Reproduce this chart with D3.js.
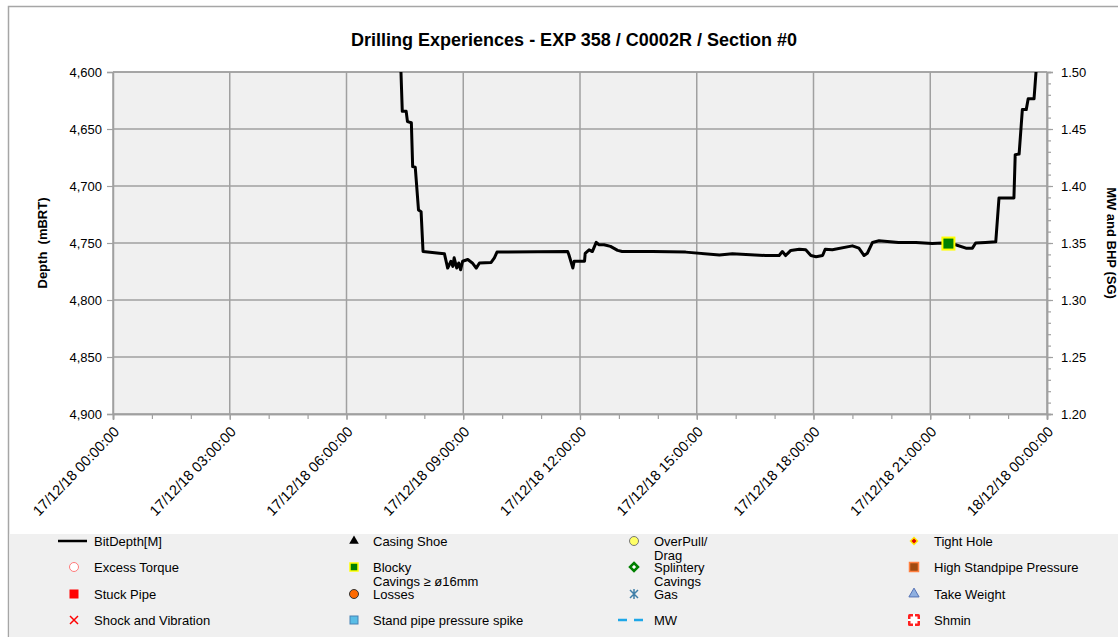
<!DOCTYPE html>
<html>
<head>
<meta charset="utf-8">
<script src="https://cdn.jsdelivr.net/npm/d3@7"></script>
<style>
  body { margin: 0; background: #fff; }
  svg { font-family: Arial, "Liberation Sans", sans-serif; }
</style>
</head>
<body>
<script>
// bit depth trace, 17/12/18 (times HH:MM, depth mBRT)
var times = ["07:21","07:24","07:26","07:32","07:34","07:40","07:42","07:46","07:51","07:55","07:58",
  "08:23","08:31","08:36","08:41","08:44","08:46","08:50","08:53","08:56","08:59",
  "09:07","09:14","09:20","09:25","09:43","09:48","09:52",
  "11:41","11:43","11:49","11:51","12:07","12:08","12:14","12:19","12:25","12:29","12:37","12:47","12:58",
  "13:05","13:52","14:43","15:35","15:55","16:46",
  "17:07","17:12","17:17","17:25","17:38","17:48","17:56","18:04","18:14","18:18","18:29",
  "19:00","19:10","19:18","19:23","19:31","19:41","20:11","20:38",
  "21:03","21:19","21:39","21:55","22:05","22:10","22:25","22:41","22:46",
  "23:09","23:11","23:17","23:22","23:28","23:31","23:40","23:43","23:46"];
var depths = [4580,4600.5,4634.5,4634.5,4643.5,4644.5,4683,4683.5,4721,4722.5,4757.5,
  4759,4759.5,4772,4766,4770.5,4763,4772,4767.5,4773.5,4766,
  4764.5,4767.5,4772,4767.5,4767,4763,4758,
  4757.5,4760.5,4772,4766,4766,4759,4756,4757.5,4749.5,4751.5,4751.5,4753,4756.5,
  4757.5,4757.5,4758,4760.5,4759.5,4761,
  4761,4757.5,4761,4756.5,4755.5,4756,4761,4762,4761,4755.5,4756,
  4752.5,4754.5,4761,4759,4749.5,4748,4749.5,4749.5,
  4750.5,4750,4751.5,4754.5,4754.5,4750,4749.5,4749,4710.5,
  4710.5,4672.5,4672,4633,4633,4623.5,4623.5,4600.5,4589];

// experience events
var blockyTimes = ["21:28"];
var blockyDepths = [4750.5];

var depthTicks = [4600,4650,4700,4750,4800,4850,4900];
var sgTicks = [1.20,1.25,1.30,1.35,1.40,1.45,1.50];

var legendLabels = [
  ["BitDepth[M]","Casing Shoe","OverPull/\nDrag","Tight Hole"],
  ["Excess Torque","Blocky\nCavings ≥ ø16mm","Splintery\nCavings","High Standpipe Pressure"],
  ["Stuck Pipe","Losses","Gas","Take Weight"],
  ["Shock and Vibration","Stand pipe pressure spike","MW","Shmin"]
];

var parse = d3.timeParse("%d/%m/%y %H:%M");
var pts = times.map(function(t, i) {
  return {t: parse("17/12/18 " + t), d: depths[i]};
});

var W = 1118, H = 637;
var svg = d3.select("body").append("svg").attr("width", W).attr("height", H);

var x = d3.scaleTime()
  .domain([parse("17/12/18 00:00"), parse("18/12/18 00:00")])
  .range([113, 1047]);
var y = d3.scaleLinear().domain([4600, 4900]).range([72, 414]);
var y2 = d3.scaleLinear().domain([1.20, 1.50]).range([414, 72]);

// outer frame
svg.append("path").attr("d", "M8.5,637V6.5H1118")
  .attr("fill", "none").attr("stroke", "#a6a6a6").attr("stroke-width", 1.5);

// plot background
svg.append("rect").attr("x", 113).attr("y", 72).attr("width", 934).attr("height", 342)
  .attr("fill", "#f0f0f0");

// grid
var grid = svg.append("g").attr("stroke", "#a0a0a0").attr("stroke-width", 1.5);
grid.selectAll("line.h").data(depthTicks).enter().append("line")
  .attr("x1", 113).attr("x2", 1047)
  .attr("y1", function(d) { return y(d); }).attr("y2", function(d) { return y(d); });
grid.selectAll("line.v").data(x.ticks(d3.timeHour.every(3))).enter().append("line")
  .attr("y1", 72).attr("y2", 414)
  .attr("x1", function(d) { return x(d); }).attr("x2", function(d) { return x(d); });

function styleAxis(g) {
  g.select(".domain").attr("stroke", "#a0a0a0").attr("stroke-width", 1.5);
  g.selectAll(".tick line").attr("stroke", "#a0a0a0").attr("stroke-width", 1.2);
  g.selectAll("text").attr("fill", "#000").style("font-size", "13px");
}

// left axis
var gl = svg.append("g").attr("transform", "translate(113,0)")
  .call(d3.axisLeft(y).tickValues(depthTicks).tickFormat(d3.format(",")).tickSize(6).tickPadding(5));
styleAxis(gl);

// right axis: minor then major
var gr2 = svg.append("g").attr("transform", "translate(1047,0)")
  .call(d3.axisRight(y2).tickValues(d3.range(120, 151).map(function(v) { return v / 100; }))
    .tickFormat("").tickSize(4));
styleAxis(gr2);
var gr = svg.append("g").attr("transform", "translate(1047,0)")
  .call(d3.axisRight(y2).tickValues(sgTicks).tickFormat(d3.format(".2f")).tickSize(6).tickPadding(8));
styleAxis(gr);

// bottom axis: hourly minor ticks, 3-hourly labels
var gb2 = svg.append("g").attr("transform", "translate(0,414)")
  .call(d3.axisBottom(x).ticks(d3.timeHour.every(1)).tickFormat("").tickSize(5));
styleAxis(gb2);
var gb = svg.append("g").attr("transform", "translate(0,414)")
  .call(d3.axisBottom(x).ticks(d3.timeHour.every(3)).tickFormat(d3.timeFormat("%d/%m/%y %H:%M:%S")).tickSize(6));
styleAxis(gb);
gb.selectAll("text")
  .style("font-size", "14.5px")
  .attr("text-anchor", "end")
  .attr("dy", "0.35em")
  .attr("transform", "translate(3,15) rotate(-46)")
  .attr("x", 0).attr("y", 0);

// top border of plot
svg.append("line").attr("x1", 113).attr("x2", 1047).attr("y1", 72).attr("y2", 72)
  .attr("stroke", "#a0a0a0").attr("stroke-width", 1.5);

// clip
svg.append("clipPath").attr("id", "plotclip").append("rect")
  .attr("x", 113).attr("y", 72).attr("width", 934).attr("height", 342);

// bit depth line
var line = d3.line().x(function(p) { return x(p.t); }).y(function(p) { return y(p.d); });
svg.append("path").datum(pts).attr("clip-path", "url(#plotclip)")
  .attr("d", line).attr("fill", "none").attr("stroke", "#000").attr("stroke-width", 3)
  .attr("stroke-linejoin", "round");

// blocky marker
svg.selectAll("rect.blocky").data(blockyTimes).enter().append("rect")
  .attr("x", function(t) { return x(parse("17/12/18 " + t)) - 6; })
  .attr("y", function(t, i) { return y(blockyDepths[i]) - 6; })
  .attr("width", 12).attr("height", 12)
  .attr("fill", "#008000").attr("stroke", "#ffff00").attr("stroke-width", 2);

// titles
svg.append("text").attr("x", 574).attr("y", 46).attr("text-anchor", "middle")
  .style("font-size", "18px").style("font-weight", "bold")
  .text("Drilling Experiences - EXP 358 / C0002R / Section #0");
svg.append("text").attr("transform", "translate(47,243) rotate(-90)").attr("text-anchor", "middle")
  .style("font-size", "13px").style("font-weight", "bold").attr("xml:space", "preserve")
  .text("Depth  (mBRT)");
svg.append("text").attr("transform", "translate(1107,243) rotate(90)").attr("text-anchor", "middle")
  .style("font-size", "13px").style("font-weight", "bold")
  .text("MW and BHP (SG)");

// legend
svg.append("rect").attr("x", 9.5).attr("y", 534).attr("width", W - 9.5).attr("height", H - 534)
  .attr("fill", "#f0f0f0");

var colSym = [74, 354, 634, 914];
var colText = [94, 373, 654, 934];
var rowY = [541, 567, 594, 620];

var diamond = function(r) { return "M0," + (-r) + "L" + r + ",0L0," + r + "L" + (-r) + ",0Z"; };

function symbol(g, key) {
  if (key === "BitDepth[M]") {
    g.append("line").attr("x1", -16).attr("x2", 13).attr("stroke", "#000").attr("stroke-width", 2.5);
  } else if (key === "MW") {
    g.append("line").attr("x1", -16).attr("x2", 13).attr("stroke", "#1ea7e8").attr("stroke-width", 2.5)
      .attr("stroke-dasharray", "9,7");
  } else if (key === "Casing Shoe") {
    g.append("path").attr("d", d3.symbol(d3.symbolTriangle, 40)()).attr("fill", "#000");
  } else if (key === "Take Weight") {
    g.append("path").attr("d", d3.symbol(d3.symbolTriangle, 45)()).attr("fill", "#8fb0e0").attr("stroke", "#5572b5");
  } else if (key === "OverPull/") {
    g.append("circle").attr("r", 4.5).attr("fill", "#ffff66").attr("stroke", "#777");
  } else if (key === "Excess Torque") {
    g.append("circle").attr("r", 4.5).attr("fill", "#fff").attr("stroke", "#ff7a7a");
  } else if (key === "Losses") {
    g.append("circle").attr("r", 4.5).attr("fill", "#ff6a00").attr("stroke", "#333");
  } else if (key === "Tight Hole") {
    g.append("path").attr("d", diamond(4.5)).attr("fill", "#ffe600");
    g.append("path").attr("d", diamond(2.5)).attr("fill", "#e00000");
  } else if (key === "Splintery") {
    g.append("path").attr("d", diamond(4)).attr("fill", "#fff")
      .attr("stroke", "#008000").attr("stroke-width", 2.5);
  } else if (key === "Blocky") {
    g.append("rect").attr("x", -4).attr("y", -4).attr("width", 8).attr("height", 8)
      .attr("fill", "#008000").attr("stroke", "#ffff00").attr("stroke-width", 1.5);
  } else if (key === "High Standpipe Pressure") {
    g.append("rect").attr("x", -4.5).attr("y", -4.5).attr("width", 9).attr("height", 9)
      .attr("fill", "#a04a10").attr("stroke", "#ff8040").attr("stroke-width", 1.5);
  } else if (key === "Stuck Pipe") {
    g.append("rect").attr("x", -4.5).attr("y", -4.5).attr("width", 9).attr("height", 9).attr("fill", "#ff0000");
  } else if (key === "Stand pipe pressure spike") {
    g.append("rect").attr("x", -4).attr("y", -4).attr("width", 8).attr("height", 8)
      .attr("fill", "#59bde6").attr("stroke", "#4682b4").attr("stroke-width", 1);
  } else if (key === "Shock and Vibration") {
    g.append("path").attr("d", "M-4,-4L4,4M-4,4L4,-4").attr("stroke", "#ff0000").attr("stroke-width", 1.5);
  } else if (key === "Gas") {
    g.append("path").attr("d", "M0,-5V5M-4,-4L4,4M-4,4L4,-4").attr("stroke", "#3f7fa8").attr("stroke-width", 1.5);
  } else if (key === "Shmin") {
    g.append("rect").attr("x", -6).attr("y", -6).attr("width", 12).attr("height", 12).attr("rx", 1.5)
      .attr("fill", "#ff2020");
    g.append("rect").attr("x", -3.5).attr("y", -3.5).attr("width", 7).attr("height", 7).attr("fill", "#fff");
    g.append("path").attr("d", "M0,-6V6M-6,0H6").attr("stroke", "#fff").attr("stroke-width", 2);
  }
}

legendLabels.forEach(function(row, r) {
  row.forEach(function(label, c) {
    var parts = label.split("\n");
    var g = svg.append("g").attr("transform", "translate(" + colSym[c] + "," + rowY[r] + ")");
    symbol(g, parts[0]);
    svg.append("text").attr("x", colText[c]).attr("y", rowY[r]).attr("dy", "0.35em")
      .style("font-size", "13px").text(parts[0]);
    if (parts[1]) {
      svg.append("text").attr("x", colText[c]).attr("y", rowY[r] + 14).attr("dy", "0.35em")
        .style("font-size", "13px").text(parts[1]);
    }
  });
});
</script>
</body>
</html>
